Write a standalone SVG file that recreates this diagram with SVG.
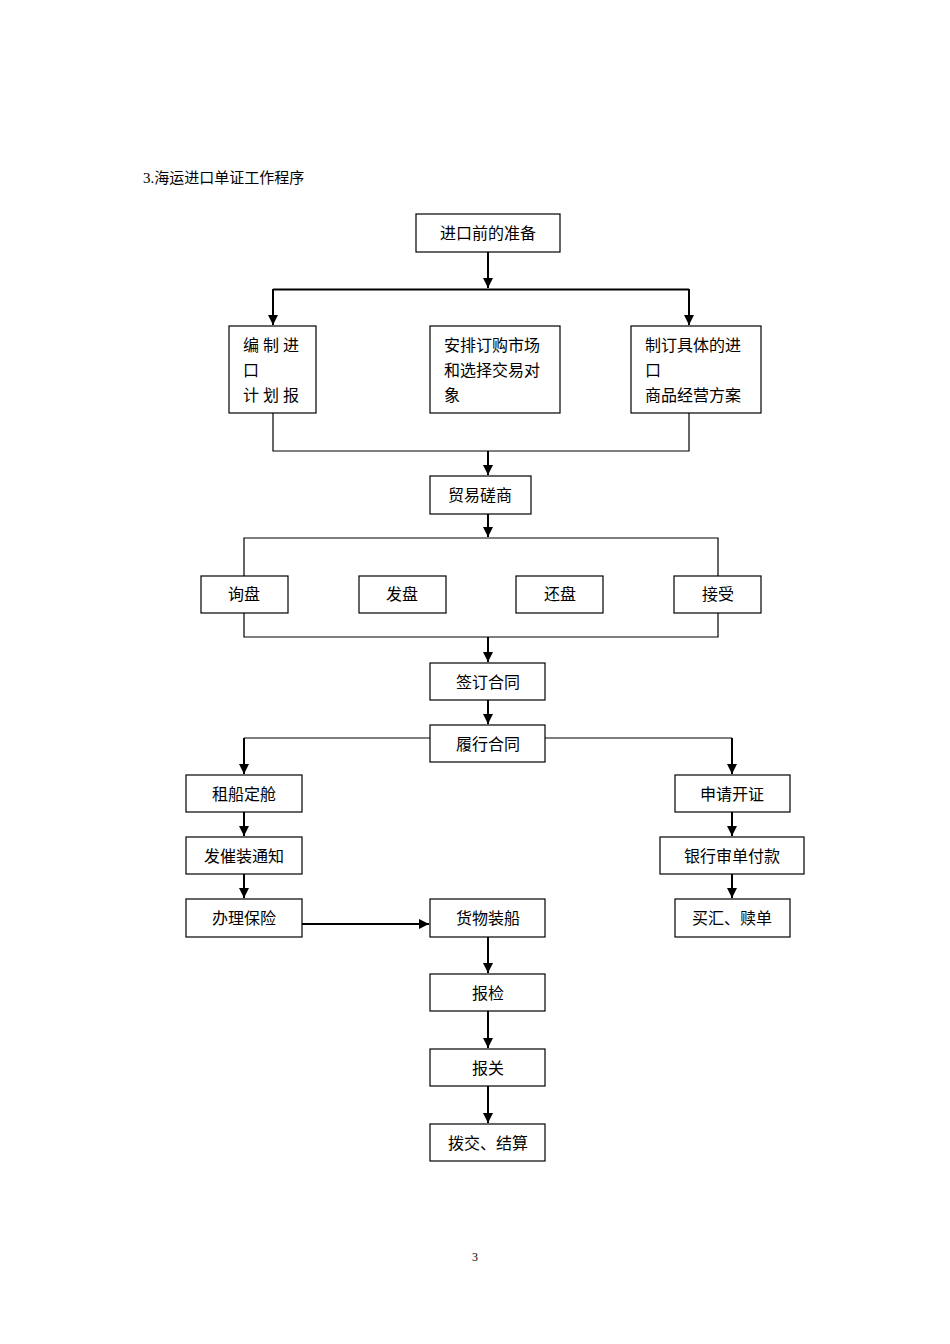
<svg xmlns="http://www.w3.org/2000/svg" width="950" height="1344" viewBox="0 0 950 1344">
<style>
text{font-family:"Liberation Serif","Noto Sans CJK SC",serif;font-size:16px;fill:#000}
.c{text-anchor:middle}
rect{fill:#fff;stroke:#000;stroke-width:1.2}
.l{fill:none;stroke:#000;stroke-width:1.2}
.a{fill:none;stroke:#000;stroke-width:2;marker-end:url(#ar)}
</style>
<defs><marker id="ar" viewBox="0 0 10 10" refX="10" refY="5" markerWidth="5" markerHeight="5" orient="auto" markerUnits="strokeWidth"><path d="M0,0L10,5L0,10z" fill="#000"/></marker></defs>
<rect width="950" height="1344" style="stroke:none"/>
<text x="143" y="183" style="font-size:15px">3.海运进口单证工作程序</text>
<text x="475" y="1261" class="c" style="font-size:12px">3</text>
<g id="connectors">
<path class="a" d="M488,252V288"/>
<path class="l" d="M273,289.5H689" style="stroke-width:2"/>
<path class="a" d="M273,289V325"/>
<path class="a" d="M689,289V325"/>
<path class="l" d="M273,413V451H689V413"/>
<path class="a" d="M488,451V475"/>
<path class="a" d="M488,514V537"/>
<path class="l" d="M244,576V538H718V576"/>
<path class="l" d="M244,613V637H718V613"/>
<path class="a" d="M488,637V662"/>
<path class="a" d="M488,700V724"/>
<path class="l" d="M430,738H244"/>
<path class="a" d="M244,738V774"/>
<path class="l" d="M545,738H732"/>
<path class="a" d="M732,738V774"/>
<path class="a" d="M244,812V836"/>
<path class="a" d="M244,874V898"/>
<path class="a" d="M732,812V836"/>
<path class="a" d="M732,874V898"/>
<path class="a" d="M302,924H429"/>
<path class="a" d="M488,937V973"/>
<path class="a" d="M488,1011V1048"/>
<path class="a" d="M488,1086V1123"/>
</g>
<g id="n1"><rect x="416" y="214" width="144" height="38"/><text x="488" y="239" class="c">进口前的准备</text></g>
<g id="n2"><rect x="229" y="326" width="87" height="87"/><text x="243" y="351">编 制 进</text><text x="243" y="376">口</text><text x="243" y="401">计 划 报</text></g>
<g id="n3"><rect x="430" y="326" width="130" height="87"/><text x="444" y="351">安排订购市场</text><text x="444" y="376">和选择交易对</text><text x="444" y="401">象</text></g>
<g id="n4"><rect x="631" y="326" width="130" height="87"/><text x="645" y="351">制订具体的进</text><text x="645" y="376">口</text><text x="645" y="401">商品经营方案</text></g>
<g id="n5"><rect x="430" y="476" width="101" height="38"/><text x="480" y="501" class="c">贸易磋商</text></g>
<g id="n6"><rect x="201" y="576" width="87" height="37"/><text x="244" y="600" class="c">询盘</text></g>
<g id="n7"><rect x="359" y="576" width="87" height="37"/><text x="402" y="600" class="c">发盘</text></g>
<g id="n8"><rect x="516" y="576" width="87" height="37"/><text x="560" y="600" class="c">还盘</text></g>
<g id="n9"><rect x="674" y="576" width="87" height="37"/><text x="718" y="600" class="c">接受</text></g>
<g id="n10"><rect x="430" y="663" width="115" height="37"/><text x="488" y="688" class="c">签订合同</text></g>
<g id="n11"><rect x="430" y="725" width="115" height="37"/><text x="488" y="750" class="c">履行合同</text></g>
<g id="n12"><rect x="186" y="775" width="116" height="37"/><text x="244" y="800" class="c">租船定舱</text></g>
<g id="n13"><rect x="186" y="837" width="116" height="37"/><text x="244" y="862" class="c">发催装通知</text></g>
<g id="n14"><rect x="186" y="899" width="116" height="38"/><text x="244" y="924" class="c">办理保险</text></g>
<g id="n15"><rect x="675" y="775" width="115" height="37"/><text x="732" y="800" class="c">申请开证</text></g>
<g id="n16"><rect x="660" y="837" width="144" height="37"/><text x="732" y="862" class="c">银行审单付款</text></g>
<g id="n17"><rect x="675" y="899" width="115" height="38"/><text x="732" y="924" class="c">买汇、赎单</text></g>
<g id="n18"><rect x="430" y="899" width="115" height="38"/><text x="488" y="924" class="c">货物装船</text></g>
<g id="n19"><rect x="430" y="974" width="115" height="37"/><text x="488" y="999" class="c">报检</text></g>
<g id="n20"><rect x="430" y="1049" width="115" height="37"/><text x="488" y="1074" class="c">报关</text></g>
<g id="n21"><rect x="430" y="1124" width="115" height="37"/><text x="488" y="1149" class="c">拨交、结算</text></g>
</svg>
